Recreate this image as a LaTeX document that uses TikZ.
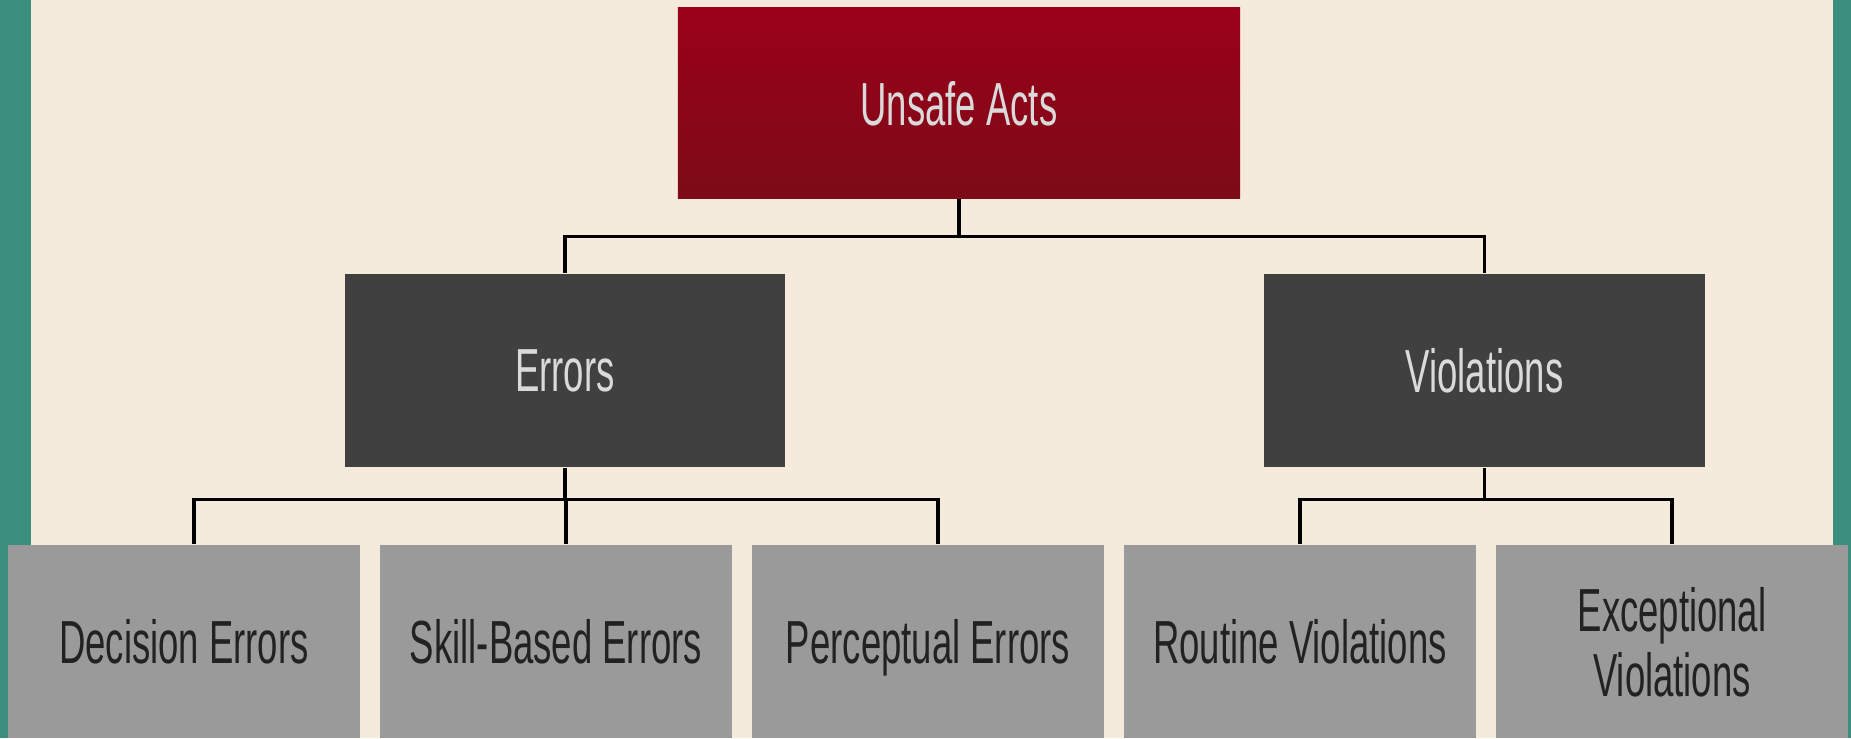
\documentclass[tikz,border=0pt]{standalone}
\usepackage{fontspec}
\setmainfont{Liberation Sans}
\usepackage{graphicx}
\usepackage{xcolor}
\usepackage{tikz}
\usetikzlibrary{
	positioning,						% Relative positioning
	calc								% Coordinate calculations
}
\definecolor{paper}{HTML}{F5EBDD}
\definecolor{teal-edge}{HTML}{3C8E7E}
\definecolor{acts-top}{HTML}{9B0019}
\definecolor{acts-bottom}{HTML}{7C0B17}
\definecolor{kind-gray}{HTML}{404040}
\definecolor{leaf-gray}{HTML}{9A9A9A}
\definecolor{label-light}{HTML}{DADADA}
\definecolor{label-dark}{HTML}{222222}
\newcommand{\squeeze}[1]{\scalebox{0.6}[1]{#1}}

\begin{document}
\begin{tikzpicture}[x=0.01cm, y=-0.01cm, font=\fontsize{17.3}{18.5}\selectfont]
		\tikzstyle{actsbox} = [top color=acts-top, bottom color=acts-bottom, text=label-light, minimum width=5.62cm, minimum height=1.90cm, inner sep=0pt, text depth=0pt]
		\tikzstyle{kindbox} = [fill=kind-gray, text=label-light, minimum width=4.40cm, minimum height=1.93cm, inner sep=0pt, text depth=0pt]
		\tikzstyle{leafbox} = [fill=leaf-gray, text=label-dark, minimum width=3.52cm, minimum height=1.93cm, inner sep=0pt, text depth=0pt]
		\tikzstyle{link} = [draw=black, line width=0.9pt]
		
		% Background
		\useasboundingbox (0,0) rectangle (1851,738);
		\fill[teal-edge] (0,0) rectangle (1851,738);
		\fill[paper] (31,0) rectangle (1833,738);
		
		% Level 1
		\node[actsbox] at (959,103) (acts) {\squeeze{Unsafe Acts}};
		
		% Level 2
		\node[kindbox] at (565,370.5) (errors) {\squeeze{Errors}};
		\node[kindbox] at (1484.5,370.5) (violations) {\squeeze{Violations}};
		
		% Level 3
		\foreach \idx/\leafText in {0/{Decision Errors}, 1/{Skill-Based Errors}, 2/{Perceptual Errors}, 3/{Routine Violations}, 4/{\begin{tabular}[b]{@{}c@{}}Exceptional\\Violations\end{tabular}}}{
			\node[leafbox] at (184+372*\idx, 641.5) (leaf\idx) {\squeeze{\leafText}};
		}
		
		% Links
		%% From top
		\draw[link] (acts.south) -- ++(0,38) -| (errors.north);
		\draw[link] (acts.south) -- ++(0,38) -| (violations.north);
		%% Errors to leaves (legs sit a bit right of the box centres)
		\foreach \idx in {0, 1, 2}{
			\draw[link] (errors.south) -- ++(0,32) -| ([xshift=0.1cm]leaf\idx.north);
		}
		%% Violations to leaves
		\foreach \idx in {3, 4}{
			\draw[link] (violations.south) -- ++(0,32) -| (leaf\idx.north);
		}
	\end{tikzpicture}
\end{document}
